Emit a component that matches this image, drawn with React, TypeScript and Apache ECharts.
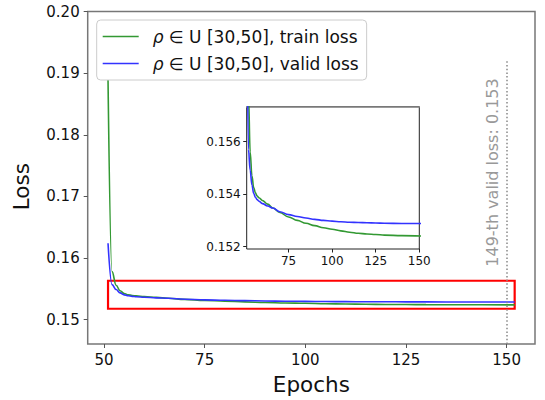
import React, { useEffect, useRef } from "react";
import * as echarts from "echarts";

const epochs = [51, 52, 53, 54, 55, 56, 57, 58, 60, 63, 66, 70, 75, 80, 85, 90, 95, 100, 105, 110, 115, 120, 125, 130, 140, 152];
const trainLoss = [0.1889, 0.1578, 0.1556, 0.1547, 0.15425, 0.15405, 0.15393, 0.15386, 0.15376, 0.15362, 0.15347, 0.1533, 0.15313, 0.153, 0.15289, 0.1528, 0.15272, 0.15266, 0.1526, 0.15255, 0.15251, 0.15248, 0.15246, 0.15244, 0.15242, 0.1524];
const validLoss = [0.1624, 0.1557, 0.1549, 0.15435, 0.15403, 0.15388, 0.15379, 0.15373, 0.15364, 0.15355, 0.15347, 0.15333, 0.15322, 0.15315, 0.15309, 0.15304, 0.153, 0.15297, 0.15295, 0.15293, 0.15292, 0.15291, 0.1529, 0.15289, 0.15288, 0.15288];

const seriesNames = ["ρ ∈ U [30,50], train loss", "ρ ∈ U [30,50], valid loss"];
const mainXTicks = [50, 75, 100, 125, 150];
const mainYTicks = [0.15, 0.16, 0.17, 0.18, 0.19, 0.2];
const insetXTicks = [75, 100, 125, 150];
const insetYTicks = [0.152, 0.154, 0.156];
const mainXRange = [45.95, 157.05];
const mainYRange = [0.14606, 0.2];
const insetXRange = [51, 150];
const insetYRange = [0.15191, 0.15733];
const zoomBox = [51, 0.15178, 152, 0.15632];
const markerEpoch = 150;
const markerTop = 0.1921;
const annotation = "149-th valid loss: 0.153";
const xLabel = "Epochs";
const yLabel = "Loss";

const FONT = "DejaVu Sans";
const GREEN = "#339933";
const BLUE = "#3333ff";

export default function App() {
  const ref = useRef<HTMLDivElement>(null);
  useEffect(() => {
    document.body.style.margin = "0";
    const chart = echarts.init(ref.current!, null, { renderer: "svg" });
    const train = epochs.map((e, i) => [e, trainLoss[i]]);
    const valid = epochs.map((e, i) => [e, validLoss[i]]);
    const tickStyle = { color: "#555", width: 1 };
    chart.setOption({
      animation: false,
      textStyle: { fontFamily: FONT },
      grid: [
        { left: 87.7, top: 11.5, width: 447.3, height: 332.8, show: true, borderColor: "#777", borderWidth: 1.5, backgroundColor: "transparent" },
        { left: 246.7, top: 106.7, width: 172.6, height: 142.3, show: true, borderColor: "#222", borderWidth: 1, backgroundColor: "#fff" },
      ],
      legend: {
        data: seriesNames,
        orient: "vertical",
        left: 96.7,
        top: 20,
        padding: [8, 8, 8, 6],
        icon: "rect",
        itemWidth: 36,
        itemHeight: 1.7,
        itemGap: 10,
        backgroundColor: "rgba(255,255,255,0.85)",
        borderColor: "#cccccc",
        borderWidth: 1,
        borderRadius: 4,
        formatter: (name: string) => `{i|ρ}${name.slice(1)}`,
        textStyle: {
          fontFamily: FONT, fontSize: 17, color: "#111", padding: [0, 0, 0, 9], lineHeight: 16,
          rich: { i: { fontFamily: FONT, fontSize: 17, fontStyle: "italic", color: "#111", lineHeight: 16 } },
        },
      },
      xAxis: [
        {
          type: "value", gridIndex: 0, min: mainXRange[0], max: mainXRange[1],
          axisLine: { show: false, onZero: false },
          splitLine: { show: false },
          axisTick: { show: true, customValues: mainXTicks, length: 4, lineStyle: tickStyle },
          axisLabel: { customValues: mainXTicks, fontSize: 15, color: "#111", fontFamily: FONT, margin: 8 },
          name: xLabel, nameLocation: "middle", nameGap: 29,
          nameTextStyle: { fontSize: 21.5, color: "#111", fontFamily: FONT },
        },
        {
          type: "value", gridIndex: 1, min: insetXRange[0], max: insetXRange[1],
          axisLine: { show: false, onZero: false },
          splitLine: { show: false },
          axisTick: { show: true, customValues: insetXTicks, length: 3.5, lineStyle: { color: "#222" } },
          axisLabel: { customValues: insetXTicks, fontSize: 12, color: "#111", fontFamily: FONT, margin: 6 },
        },
        {
          type: "value", gridIndex: 1, position: "top", min: insetXRange[0], max: insetXRange[1],
          axisLine: { show: true, onZero: false, lineStyle: { color: "#888", width: 1.5 } },
          splitLine: { show: false }, axisTick: { show: false }, axisLabel: { show: false },
        },
      ],
      yAxis: [
        {
          type: "value", gridIndex: 0, min: mainYRange[0], max: mainYRange[1],
          axisLine: { show: false, onZero: false },
          splitLine: { show: false },
          axisTick: { show: true, customValues: mainYTicks, length: 4, lineStyle: tickStyle },
          axisLabel: { customValues: mainYTicks, fontSize: 15, color: "#111", fontFamily: FONT, margin: 8, formatter: (v: number) => v.toFixed(2) },
        },
        {
          type: "value", gridIndex: 1, min: insetYRange[0], max: insetYRange[1],
          axisLine: { show: false, onZero: false },
          splitLine: { show: false },
          axisTick: { show: true, customValues: insetYTicks, length: 3.5, lineStyle: { color: "#222" } },
          axisLabel: { customValues: insetYTicks, fontSize: 12, color: "#111", fontFamily: FONT, margin: 6, formatter: (v: number) => v.toFixed(3) },
        },
      ],
      series: [
        {
          name: seriesNames[0], type: "line", xAxisIndex: 0, yAxisIndex: 0, data: train,
          symbol: "none", smooth: 0.4, smoothMonotone: "x",
          lineStyle: { color: GREEN, width: 1.6 }, itemStyle: { color: GREEN }, z: 3,
          markArea: {
            silent: true,
            itemStyle: { color: "rgba(0,0,0,0)", borderColor: "#ff0000", borderWidth: 2.2 },
            data: [[{ coord: [zoomBox[0], zoomBox[1]] }, { coord: [zoomBox[2], zoomBox[3]] }]],
          },
        },
        {
          name: seriesNames[1], type: "line", xAxisIndex: 0, yAxisIndex: 0, data: valid,
          symbol: "none", smooth: 0.4, smoothMonotone: "x",
          lineStyle: { color: BLUE, width: 1.6 }, itemStyle: { color: BLUE }, z: 4,
          markLine: {
            silent: true, symbol: "none", label: { show: false },
            lineStyle: { color: "#888", width: 1.5, type: [1.5, 2.2] },
            data: [[{ coord: [markerEpoch, mainYRange[0]] }, { coord: [markerEpoch, markerTop] }]],
          },
        },
        {
          name: "inset-train", type: "line", xAxisIndex: 1, yAxisIndex: 1, data: train,
          symbol: "none", smooth: 0.4, smoothMonotone: "x",
          lineStyle: { color: GREEN, width: 1.6 }, clip: true, z: 5,
        },
        {
          name: "inset-valid", type: "line", xAxisIndex: 1, yAxisIndex: 1, data: valid,
          symbol: "none", smooth: 0.4, smoothMonotone: "x",
          lineStyle: { color: BLUE, width: 1.6 }, clip: true, z: 6,
        },
      ],
      graphic: [
        {
          type: "text", x: 21.7, y: 186.7, rotation: Math.PI / 2,
          style: { text: yLabel, fontSize: 21.5, fontFamily: FONT, fill: "#111", align: "center", verticalAlign: "middle" },
        },
        {
          type: "text", x: 492, y: 172.5, rotation: Math.PI / 2,
          style: { text: annotation, fontSize: 16, fontFamily: FONT, fill: "#999", align: "center", verticalAlign: "middle" },
        },
      ],
    });
    return () => chart.dispose();
  }, []);
  return <div ref={ref} style={{ width: 545, height: 400, position: "absolute", left: 0, top: 0 }} />;
}
